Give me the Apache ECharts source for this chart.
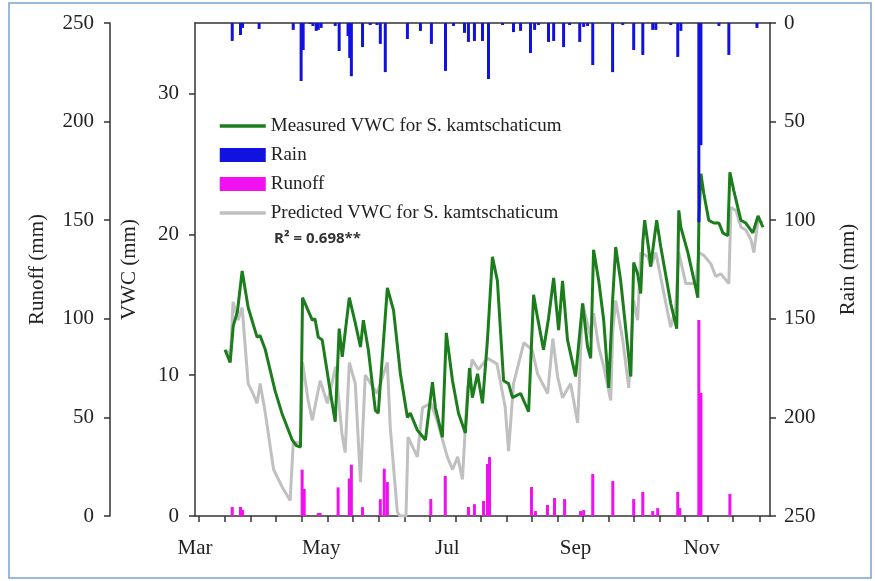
<!DOCTYPE html>
<html>
<head>
<meta charset="utf-8">
<script src="https://cdn.jsdelivr.net/npm/echarts@6/dist/echarts.min.js"></script>
<style>
  html, body { margin: 0; padding: 0; background: #fff; }
  #chart { width: 875px; height: 581px; }
</style>
</head>
<body>
<div id="chart"></div>
<script>
// x axis is day of year
const monthTicks = [60, 121, 182, 244, 305];
const monthNames = ['Mar', 'May', 'Jul', 'Sep', 'Nov'];
const dayTicks = [62, 74.5, 87, 99.2, 111.7, 124, 136.5, 149, 161.2, 173.5, 186, 198.2, 210.6, 222.7, 235.2, 247.4, 259.9, 272.2, 284.6, 296.8, 308, 320, 333];

const vwcTicks = [0, 10, 20, 30];
const runoffTicks = [0, 50, 100, 150, 200, 250];
const rainTicks = [0, 50, 100, 150, 200, 250];

// [day, VWC mm]
const measuredVWC = [
  [74.5, 11.8], [77, 10.9], [78.5, 13.5], [80.5, 14.5], [82.8, 17.4], [85.7, 14.8], [90, 12.7], [91.5, 12.8],
  [94, 11.8], [98.7, 8.9], [102, 7.3], [107, 5.4], [109, 5.0], [111, 4.9], [112, 15.5], [116.7, 13.9],
  [118, 14.0], [119.6, 12.7], [121.5, 12.5], [126.3, 8.0], [127.8, 6.7], [129.7, 13.3], [131.2, 11.3],
  [134.6, 15.5], [137.5, 13.7], [140, 12.0], [141.4, 13.9], [143.8, 11.8], [147.2, 7.5], [148.6, 7.3],
  [153, 16.2], [156, 14.6], [159.3, 10.1], [162.7, 7.0], [164.1, 7.3], [167.5, 6.1], [171.4, 5.4],
  [174.8, 9.5], [176.2, 7.7], [179.6, 5.6], [181.5, 13.0], [184.5, 9.6], [187.4, 7.3], [190.7, 5.9],
  [192.7, 10.5], [194.1, 8.4], [196.6, 10.1], [199, 8.0], [201.4, 12.5], [203.8, 18.4], [206.2, 16.7],
  [209.2, 9.6], [211.6, 9.4], [213.5, 8.4], [217.4, 8.7], [221.3, 7.4], [223.7, 15.7], [225.6, 14.1],
  [228.5, 11.8], [230.9, 14.0], [233.4, 16.9], [235.8, 13.2], [237.7, 16.7], [240.1, 12.5], [244, 9.9],
  [247.4, 15.1], [249.8, 12.0], [251.3, 11.2], [252.7, 18.9], [255.2, 16.7], [257.6, 13.9], [260, 9.1],
  [261.9, 15.3], [263.4, 19.1], [265.8, 16.7], [270.7, 9.9], [272.1, 18.0], [274, 17.2], [275.5, 15.8],
  [276.5, 19.4], [277.4, 21.0], [279.4, 18.9], [280.3, 17.7], [283.2, 21.0], [285.2, 19.1], [290, 15.1],
  [292.9, 13.3], [293.9, 21.7], [294.9, 20.5], [298.3, 18.7], [302.1, 16.2], [303.1, 15.5], [303.6, 20.8],
  [304.6, 24.3], [306, 22.9], [308.4, 21.0], [310.8, 20.8], [313.3, 20.8], [315.2, 20.1], [317.6, 19.9],
  [318.6, 24.4], [320.5, 23.1], [323.9, 21.0], [326.3, 20.8], [329.7, 20.1], [332.2, 21.3], [334.6, 20.5]
];

const predictedVWC = [
  [75.5, 11.8], [77, 10.9], [78.4, 15.2], [80.8, 13.9], [82.8, 14.8], [85.7, 9.4], [88, 8.7], [90, 8.0],
  [91.5, 9.4], [94, 7.3], [98, 3.3], [102, 2.1], [106, 1.1], [107.5, 5.2], [111, 5.2], [112, 10.9],
  [114.7, 8.2], [116.7, 6.8], [120.5, 9.6], [124, 8.0], [128, 10.6], [131, 5.9], [132.6, 4.5], [134.6, 10.9],
  [137.5, 9.4], [140, 2.4], [142.3, 10.0], [148, 8.7], [153, 10.9], [154.4, 6.3], [157.8, 0.3], [159, 0],
  [162, 0], [163, 5.6], [167.5, 4.2], [170, 7.7], [174, 8.0], [177, 6.8], [182, 4.2], [184.5, 3.3],
  [187, 4.2], [189.3, 2.6], [191.7, 8.9], [194, 11.1], [197, 10.4], [201.4, 11.2], [206, 10.8], [210, 7.7],
  [211.6, 4.6], [214, 9.4], [219, 12.3], [223, 11.8], [225.6, 10.1], [230.5, 8.7], [233, 12.6], [235.3, 9.9],
  [237.7, 8.4], [241.6, 9.4], [245, 6.6], [247.4, 15.1], [251.3, 12.7], [252.7, 14.4], [255.2, 12.0],
  [257.6, 10.6], [261, 8.2], [262, 13.2], [263.4, 15.3], [266.8, 12.5], [269.7, 9.1], [272.1, 15.3],
  [274, 13.9], [275.5, 18.7], [279, 18.4], [280.3, 17.7], [282.8, 18.7], [288.6, 14.4], [290, 13.4],
  [292.4, 14.8], [293.9, 18.7], [297.3, 16.5], [302.1, 16.5], [303.6, 18.7], [306, 18.5], [309.4, 17.9],
  [311.8, 17.0], [314.2, 17.2], [318.1, 16.5], [319.1, 21.9], [321.5, 21.7], [324, 20.5], [326.3, 20.3],
  [328.8, 19.6], [330.2, 18.7], [332.2, 21.0], [334.6, 20.8]
];

// [day, mm]
const rain = [
  [78, 9.1], [82, 6.1], [83, 2.5], [91, 3], [107.5, 3.5], [111.3, 29.4], [112.3, 13.7], [115.7, 0.5],
  [117, 1.5], [118.6, 4], [119.6, 3.5], [121, 2.5], [127.8, 1.5], [129.7, 14.2], [134, 6.6], [134.8, 17.7],
  [135.6, 27], [141, 12.2], [144.7, 1], [148, 1], [149.6, 10.6], [152, 24.9], [162.7, 8.1], [169, 4],
  [174.3, 10.6], [181.1, 24.3], [185, 1.5], [190.3, 5], [192.2, 9.6], [195.1, 9.1], [199, 9.1], [201.9, 28.4],
  [208.7, 1], [214, 4.6], [217.4, 4], [222.2, 15.2], [224.2, 3.5], [226.1, 1], [230.9, 9.6], [233.4, 9.1],
  [238.2, 12.2], [241.1, 1], [246, 9.6], [247.9, 2], [249.8, 1.5], [252.3, 21.3], [261.9, 24.9], [266.8, 1],
  [272.1, 13.7], [276.5, 16.2], [281.3, 3.5], [282.8, 3.5], [290, 1], [293.4, 17.2], [294.9, 4],
  [303.6, 101], [304.6, 62], [313.3, 1.5], [318.1, 16.2], [331.7, 2.5]
];

const runoff = [
  [78, 4.6], [82, 4.6], [83, 3], [111.8, 23.5], [112.8, 13.7], [119.6, 1.5], [120.5, 1.5], [129.2, 14.5],
  [134.6, 19], [135.6, 26], [141, 4.5], [149.6, 8.5], [151.5, 24], [153, 17.2], [174, 8.6], [181, 20.3],
  [192.2, 4.6], [195.1, 6], [199.5, 7.6], [201.4, 26.4], [202.4, 29.9], [222.7, 14.7], [224.6, 2.5],
  [230.4, 5.6], [233.8, 9.1], [238.7, 8.6], [246.4, 2.5], [247.9, 3], [252.3, 21.3], [262, 17.7],
  [272.1, 8.6], [276.5, 12.2], [281.3, 2.5], [283.7, 4], [293.4, 12.2], [294.4, 4], [303.6, 99.4],
  [304.6, 62.4], [318.6, 11.2]
];

const serif = '"Liberation Serif", "Times New Roman", serif';
const axisColor = '#333';

const chart = echarts.init(document.getElementById('chart'));

const yBase = {
  type: 'value',
  axisLine: { show: true, lineStyle: { color: axisColor, width: 1.5 } },
  axisTick: { show: true, inside: false, length: 6, lineStyle: { color: axisColor, width: 1.5 } },
  axisLabel: { color: '#222', fontFamily: serif, fontSize: 21, margin: 14 },
  splitLine: { show: false },
  nameLocation: 'middle',
  nameTextStyle: { color: '#222', fontFamily: serif, fontSize: 21 }
};

chart.setOption({
  animation: false,
  backgroundColor: '#fff',
  grid: { left: 195, right: 105, top: 23, bottom: 65 },
  graphic: [
    {
      type: 'rect',
      shape: { x: 9, y: 3, width: 862, height: 575 },
      style: { fill: 'none', stroke: '#7aa3d8', lineWidth: 1.5 },
      silent: true
    },
    {
      type: 'text',
      left: 274,
      top: 231,
      style: {
        text: 'R² = 0.698**',
        font: 'bold 15px "Open Sans", "DejaVu Sans", sans-serif',
        fill: '#333'
      }
    }
  ],
  legend: {
    orient: 'vertical',
    left: 213,
    top: 111,
    itemWidth: 46,
    itemHeight: 14,
    itemGap: 9,
    textStyle: { fontFamily: serif, fontSize: 19, color: '#222', lineHeight: 20 },
    data: [
      // marker hidden so only the line remains in the key
      { name: 'Measured VWC for S. kamtschaticum', itemStyle: { opacity: 0 }, lineStyle: { width: 3.5 } },
      { name: 'Rain', icon: 'rect' },
      { name: 'Runoff', icon: 'rect' },
      { name: 'Predicted VWC for S. kamtschaticum', itemStyle: { opacity: 0 }, lineStyle: { width: 3.5 } }
    ]
  },
  xAxis: [
    {
      type: 'value',
      min: 60,
      max: 338,
      axisLine: { onZero: false, lineStyle: { color: axisColor, width: 1.5 } },
      axisTick: { show: true, length: 6, customValues: dayTicks, lineStyle: { color: axisColor, width: 1.5 } },
      axisLabel: {
        customValues: monthTicks,
        formatter: v => monthNames[monthTicks.indexOf(v)] || '',
        color: '#222', fontFamily: serif, fontSize: 21, margin: 22
      },
      splitLine: { show: false }
    },
    {
      type: 'value',
      position: 'top',
      min: 60,
      max: 338,
      axisLine: { onZero: false, lineStyle: { color: axisColor, width: 1.5 } },
      axisTick: { show: false },
      axisLabel: { show: false },
      splitLine: { show: false }
    }
  ],
  yAxis: [
    Object.assign({}, yBase, {
      name: 'VWC (mm)',
      nameGap: 55,
      position: 'left',
      min: 0,
      max: 35,
      interval: 10,
      axisLabel: Object.assign({}, yBase.axisLabel, { showMaxLabel: false, margin: 16 }),
      axisTick: Object.assign({}, yBase.axisTick, { customValues: vwcTicks })
    }),
    Object.assign({}, yBase, {
      name: 'Runoff (mm)',
      nameGap: 62,
      position: 'left',
      offset: 85,
      min: 0,
      max: 250,
      interval: 50,
      axisLabel: Object.assign({}, yBase.axisLabel, { customValues: runoffTicks, margin: 16 })
    }),
    Object.assign({}, yBase, {
      name: 'Rain (mm)',
      nameGap: 68,
      nameRotate: 90,
      position: 'right',
      inverse: true,
      min: 0,
      max: 250,
      interval: 50,
      axisLabel: Object.assign({}, yBase.axisLabel, { customValues: rainTicks, margin: 14 })
    })
  ],
  series: [
    {
      name: 'Runoff',
      type: 'bar',
      xAxisIndex: 0,
      yAxisIndex: 1,
      barWidth: 3,
      barGap: '-100%',
      itemStyle: { color: '#f010f0' },
      data: runoff,
      z: 2
    },
    {
      name: 'Predicted VWC for S. kamtschaticum',
      type: 'line',
      xAxisIndex: 0,
      yAxisIndex: 0,
      symbol: 'none',
      lineStyle: { color: '#c0c0c0', width: 3 },
      itemStyle: { color: '#c0c0c0' },
      data: predictedVWC,
      z: 3
    },
    {
      name: 'Measured VWC for S. kamtschaticum',
      type: 'line',
      xAxisIndex: 0,
      yAxisIndex: 0,
      symbol: 'none',
      lineStyle: { color: '#1b7d1b', width: 3 },
      itemStyle: { color: '#1b7d1b' },
      data: measuredVWC,
      z: 4
    },
    {
      name: 'Rain',
      type: 'bar',
      xAxisIndex: 0,
      yAxisIndex: 2,
      barWidth: 3,
      barGap: '-100%',
      itemStyle: { color: '#1212e0' },
      data: rain,
      z: 5
    }
  ]
});
</script>
</body>
</html>
